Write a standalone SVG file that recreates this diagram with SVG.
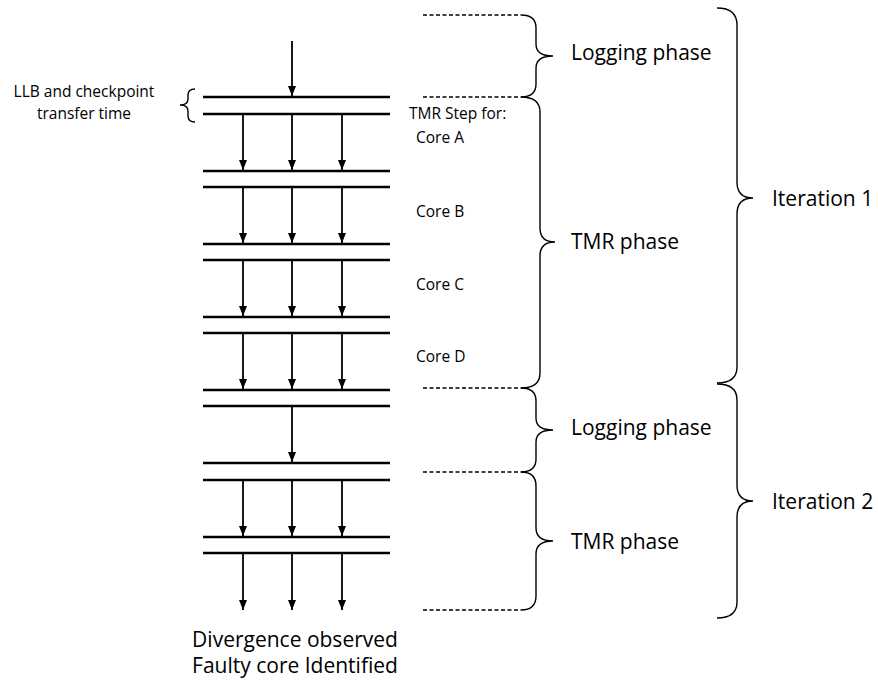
<svg xmlns="http://www.w3.org/2000/svg" width="878" height="683" viewBox="0 0 878 683">
  <style>
    .bar { stroke: #000; stroke-width: 2.4; }
    .dash { stroke: #000; stroke-width: 1.3; stroke-dasharray: 4 2.5; }
    .brace { fill: none; stroke: #000; stroke-width: 1.4; }
    text { font-family: "Open Sans", "Liberation Sans", sans-serif; fill: #000; }
    .small { font-size: 15.5px; }
    .big { font-size: 21px; }
  </style>
  <defs>
    <marker id="down" markerWidth="8" markerHeight="10" refX="4" refY="10" orient="0" markerUnits="userSpaceOnUse" viewBox="0 0 8 10">
      <path d="M0,0 L8,0 L4,10 Z" fill="#000"/>
    </marker>
  </defs>

  <!-- timeline bars -->
  <g id="bars">
    <line class="bar" x1="203" y1="97" x2="390" y2="97"/>
    <line class="bar" x1="203" y1="114" x2="390" y2="114"/>
    <line class="bar" x1="203" y1="171" x2="390" y2="171"/>
    <line class="bar" x1="203" y1="187" x2="390" y2="187"/>
    <line class="bar" x1="203" y1="244" x2="390" y2="244"/>
    <line class="bar" x1="203" y1="260" x2="390" y2="260"/>
    <line class="bar" x1="203" y1="317" x2="390" y2="317"/>
    <line class="bar" x1="203" y1="333" x2="390" y2="333"/>
    <line class="bar" x1="203" y1="390" x2="390" y2="390"/>
    <line class="bar" x1="203" y1="406" x2="390" y2="406"/>
    <line class="bar" x1="203" y1="463" x2="390" y2="463"/>
    <line class="bar" x1="203" y1="480" x2="390" y2="480"/>
    <line class="bar" x1="203" y1="537" x2="390" y2="537"/>
    <line class="bar" x1="203" y1="553" x2="390" y2="553"/>
  </g>

  <!-- execution arrows -->
  <g id="connectors" stroke="#000" stroke-width="1.8" marker-end="url(#down)">
    <line x1="292" y1="41" x2="292" y2="96"/>
    <line x1="243" y1="115" x2="243" y2="170"/>
    <line x1="292" y1="115" x2="292" y2="170"/>
    <line x1="342" y1="115" x2="342" y2="170"/>
    <line x1="243" y1="188" x2="243" y2="243"/>
    <line x1="292" y1="188" x2="292" y2="243"/>
    <line x1="342" y1="188" x2="342" y2="243"/>
    <line x1="243" y1="261" x2="243" y2="316"/>
    <line x1="292" y1="261" x2="292" y2="316"/>
    <line x1="342" y1="261" x2="342" y2="316"/>
    <line x1="243" y1="334" x2="243" y2="389"/>
    <line x1="292" y1="334" x2="292" y2="389"/>
    <line x1="342" y1="334" x2="342" y2="389"/>
    <line x1="292" y1="407" x2="292" y2="462"/>
    <line x1="243" y1="481" x2="243" y2="536"/>
    <line x1="292" y1="481" x2="292" y2="536"/>
    <line x1="342" y1="481" x2="342" y2="536"/>
    <line x1="243" y1="554" x2="243" y2="610"/>
    <line x1="292" y1="554" x2="292" y2="610"/>
    <line x1="342" y1="554" x2="342" y2="610"/>
  </g>

  <!-- phase boundaries -->
  <g id="boundaries">
    <line class="dash" x1="423" y1="15" x2="521" y2="15"/>
    <line class="dash" x1="423" y1="97" x2="521" y2="97"/>
    <line class="dash" x1="423" y1="388" x2="521" y2="388"/>
    <line class="dash" x1="423" y1="472" x2="521" y2="472"/>
    <line class="dash" x1="423" y1="610" x2="521" y2="610"/>
  </g>

  <!-- transfer-time brace -->
  <g id="transfer">
    <path class="brace" d="M195,89 Q188,89 188,95 L188,99 Q188,105 180,105 Q188,105 188,111 L188,116 Q188,122 195,122"/>
    <text class="small" x="84" y="97" text-anchor="middle">LLB and checkpoint</text>
    <text class="small" x="84" y="119" text-anchor="middle">transfer time</text>
  </g>

  <!-- core labels -->
  <g id="cores">
    <text class="small" x="409" y="119">TMR Step for:</text>
    <text class="small" x="416" y="143">Core A</text>
    <text class="small" x="416" y="217">Core B</text>
    <text class="small" x="416" y="290">Core C</text>
    <text class="small" x="416" y="362">Core D</text>
  </g>

  <!-- iteration 1 phases -->
  <g id="logging1">
    <path class="brace" d="M521,15 Q536,15 536,28 L536,44 Q536,56 553,56 Q536,56 536,68 L536,84 Q536,97 521,97"/>
    <text class="big" x="571" y="60">Logging phase</text>
  </g>
  <g id="tmr1">
    <path class="brace" d="M521,97 Q540,97 540,112 L540,228 Q540,242 555,242 Q540,242 540,256 L540,373 Q540,388 521,388"/>
    <text class="big" x="571" y="249">TMR phase</text>
  </g>
  <g id="iteration1">
    <path class="brace" d="M717,8 Q737,8 737,25 L737,182 Q737,198 753,198 Q737,198 737,214 L737,367 Q737,383 717,383"/>
    <text class="big" x="772" y="206">Iteration 1</text>
  </g>

  <!-- iteration 2 phases -->
  <g id="logging2">
    <path class="brace" d="M521,388 Q536,388 536,401 L536,418 Q536,430 553,430 Q536,430 536,442 L536,459 Q536,472 521,472"/>
    <text class="big" x="571" y="435">Logging phase</text>
  </g>
  <g id="tmr2">
    <path class="brace" d="M521,472 Q536,472 536,486 L536,528 Q536,541 553,541 Q536,541 536,554 L536,596 Q536,610 521,610"/>
    <text class="big" x="571" y="549">TMR phase</text>
  </g>
  <g id="iteration2">
    <path class="brace" d="M717,384 Q737,384 737,400 L737,485 Q737,501 753,501 Q737,501 737,517 L737,602 Q737,618 717,618"/>
    <text class="big" x="772" y="509">Iteration 2</text>
  </g>

  <!-- outcome -->
  <g id="outcome">
    <text class="big" x="295" y="647" text-anchor="middle">Divergence observed</text>
    <text class="big" x="295" y="673" text-anchor="middle">Faulty core Identified</text>
  </g>
</svg>
